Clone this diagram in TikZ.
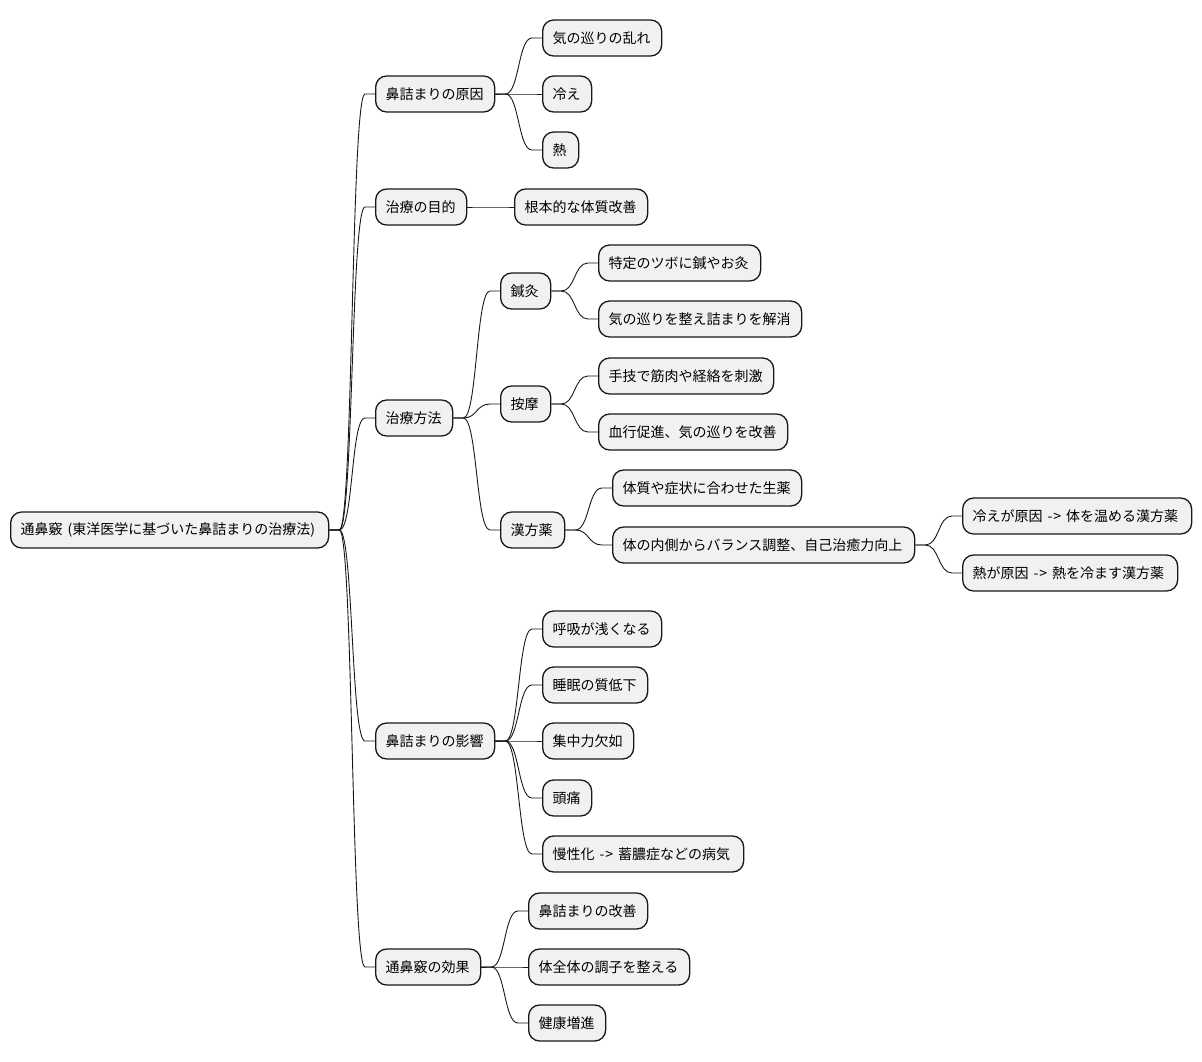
\documentclass[tikz,border=0pt]{standalone}
\usepackage{fontspec}
\setmainfont{Noto Sans CJK JP}
\begin{document}
\begin{tikzpicture}[x=1pt,y=-1pt,
  box/.style={draw=linec, fill=boxfill, line width=1.3pt, rounded corners=11pt,
    minimum height=36pt, inner xsep=10pt, inner ysep=0pt, anchor=west, align=left,
    font=\fontsize{14}{16}\selectfont, text=black},
  conn/.style={draw=linec, line width=0.9pt}]
\definecolor{boxfill}{HTML}{F1F1F1}
\definecolor{linec}{HTML}{181818}
\useasboundingbox (0,0) rectangle (1202,1062);
\newcommand\nd[5]{\node[box, text width=\the\numexpr#4-20\relax pt] (#1) at (#2,#3) {#5};}
\newcommand\cn[2]{\draw[conn] (#1.east) -- ++(10pt,0) .. controls +(14pt,0) and +(-14pt,0) .. ([xshift=-10pt]#2.west) -- (#2.west);}
\newcommand\ws{\hspace{5pt}}
\newcommand\arr{-\kern0.8pt>}
% root
\nd{root}{10}{530}{318}{通鼻竅\ws{}(東洋医学に基づいた鼻詰まりの治療法)}
% level 1
\nd{gen}{375}{94}{119}{鼻詰まりの原因}
\nd{mok}{375}{207}{91}{治療の目的}
\nd{hou}{375}{418}{77}{治療方法}
\nd{eik}{375}{741}{119}{鼻詰まりの影響}
\nd{kou}{375}{967}{105}{通鼻竅の効果}
% causes
\nd{g1}{542}{38}{119}{気の巡りの乱れ}
\nd{g2}{542}{94}{49}{冷え}
\nd{g3}{542}{150}{36}{熱}
% purpose
\nd{m1}{514}{207}{133}{根本的な体質改善}
% methods
\nd{sh}{500}{291}{50}{鍼灸}
\nd{an}{500}{404}{50}{按摩}
\nd{kp}{500}{530}{64}{漢方薬}
\nd{sh1}{598}{263}{162}{特定のツボに鍼やお灸}
\nd{sh2}{598}{319}{203}{気の巡りを整え詰まりを解消}
\nd{an1}{598}{376}{175}{手技で筋肉や経絡を刺激}
\nd{an2}{598}{432}{189}{血行促進、気の巡りを改善}
\nd{kp1}{612}{488}{189}{体質や症状に合わせた生薬}
\nd{kp2}{612}{545}{302}{体の内側からバランス調整、自己治癒力向上}
\nd{kp21}{962}{516}{229}{冷えが原因\ws{}\arr{}\ws{}体を温める漢方薬}
\nd{kp22}{962}{573}{215}{熱が原因\ws{}\arr{}\ws{}熱を冷ます漢方薬}
% effects
\nd{e1}{542}{629}{119}{呼吸が浅くなる}
\nd{e2}{542}{685}{105}{睡眠の質低下}
\nd{e3}{542}{741}{91}{集中力欠如}
\nd{e4}{542}{798}{49}{頭痛}
\nd{e5}{542}{854}{201}{慢性化\ws{}\arr{}\ws{}蓄膿症などの病気}
% benefits
\nd{k1}{528}{911}{119}{鼻詰まりの改善}
\nd{k2}{528}{967}{161}{体全体の調子を整える}
\nd{k3}{528}{1023}{77}{健康増進}
% connectors
\cn{root}{gen}\cn{root}{mok}\cn{root}{hou}\cn{root}{eik}\cn{root}{kou}
\cn{gen}{g1}\cn{gen}{g2}\cn{gen}{g3}
\cn{mok}{m1}
\cn{hou}{sh}\cn{hou}{an}\cn{hou}{kp}
\cn{sh}{sh1}\cn{sh}{sh2}
\cn{an}{an1}\cn{an}{an2}
\cn{kp}{kp1}\cn{kp}{kp2}
\cn{kp2}{kp21}\cn{kp2}{kp22}
\cn{eik}{e1}\cn{eik}{e2}\cn{eik}{e3}\cn{eik}{e4}\cn{eik}{e5}
\cn{kou}{k1}\cn{kou}{k2}\cn{kou}{k3}
\end{tikzpicture}
\end{document}
